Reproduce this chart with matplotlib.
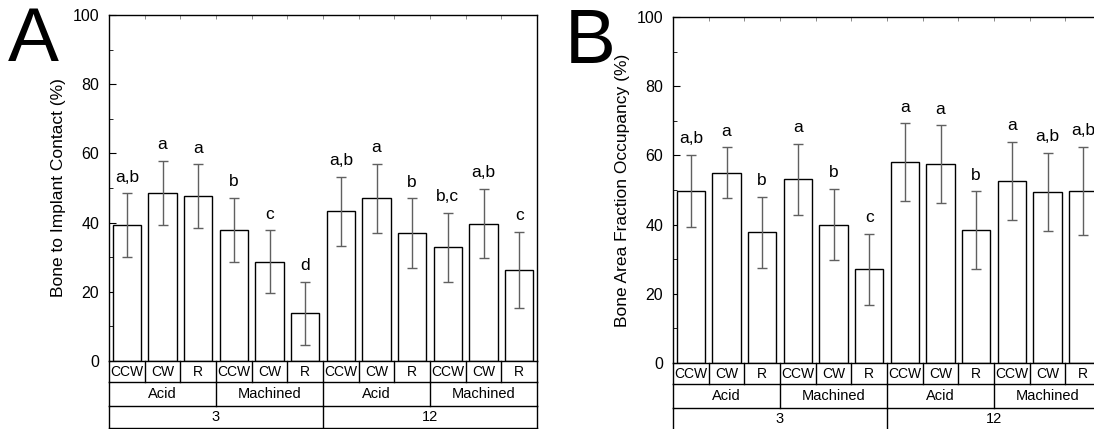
import matplotlib
matplotlib.use('Agg')
import matplotlib.pyplot as plt
import numpy as np

plt.rcParams['font.family'] = ['Liberation Sans', 'DejaVu Sans']

# groups along x: week / surface / rotation
weeks = ['3', '12']
surfaces = ['Acid', 'Machined']
rotations = ['CCW', 'CW', 'R']

# panel A: bone to implant contact (%)
bic_mean = [39.3, 48.6, 47.6, 37.8, 28.7, 13.8, 43.3, 47.0, 37.0, 32.9, 39.7, 26.4]
bic_sd = [9.2, 9.2, 9.2, 9.3, 9.1, 9.1, 10.0, 10.0, 10.0, 10.0, 10.0, 11.0]
bic_letters = ['a,b', 'a', 'a', 'b', 'c', 'd', 'a,b', 'a', 'b', 'b,c', 'a,b', 'c']

# panel B: bone area fraction occupancy (%)
bafo_mean = [49.7, 55.0, 37.8, 53.1, 40.0, 27.1, 58.0, 57.5, 38.4, 52.7, 49.4, 49.8]
bafo_sd = [10.4, 7.3, 10.3, 10.3, 10.3, 10.2, 11.3, 11.2, 11.2, 11.3, 11.3, 12.7]
bafo_letters = ['a,b', 'a', 'b', 'a', 'b', 'c', 'a', 'a', 'b', 'a', 'a,b', 'a,b']


def draw_table(ax):
    """Three-row category table drawn under the axes."""
    n = len(weeks) * len(surfaces) * len(rotations)
    tr = ax.get_xaxis_transform()
    h = ax.bbox.height
    rows = [0, -21 / h, -45 / h, -67 / h]
    kw = dict(color='black', lw=1.0, transform=tr, clip_on=False)
    for y in rows[1:]:
        ax.plot([-0.5, n - 0.5], [y, y], **kw)
    # row 1: rotation
    for i in range(n + 1):
        ax.plot([i - 0.5, i - 0.5], [rows[0], rows[1]], **kw)
    for i in range(n):
        ax.text(i, (rows[0] + rows[1]) / 2, rotations[i % 3], transform=tr,
                ha='center', va='center', fontsize=10)
    # row 2: surface
    for i in range(0, n + 1, 3):
        ax.plot([i - 0.5, i - 0.5], [rows[1], rows[2]], **kw)
    for j in range(n // 3):
        ax.text(3 * j + 1, (rows[1] + rows[2]) / 2, surfaces[j % 2], transform=tr,
                ha='center', va='center', fontsize=10.5)
    # row 3: week
    for i in range(0, n + 1, 6):
        ax.plot([i - 0.5, i - 0.5], [rows[2], rows[3]], **kw)
    for j in range(n // 6):
        ax.text(6 * j + 2.5, (rows[2] + rows[3]) / 2, weeks[j], transform=tr,
                ha='center', va='center', fontsize=10.5)


def panel(ax, mean, sd, letters, ylabel):
    x = np.arange(len(mean))
    ax.bar(x, mean, width=0.8, color='white', edgecolor='black', lw=1.0, zorder=2)
    ax.errorbar(x, mean, yerr=sd, fmt='none', ecolor='#606060', elinewidth=1.0,
                capsize=3.5, capthick=1.0, zorder=3)
    for xi, m, s, t in zip(x, mean, sd, letters):
        ax.text(xi, m + s + 2.5, t, ha='center', va='bottom', fontsize=12.5)
    ax.set_xlim(-0.5, len(mean) - 0.5)
    ax.set_ylim(0, 100)
    ax.set_yticks(np.arange(0, 101, 20))
    ax.set_yticks(np.arange(10, 100, 20), minor=True)
    ax.tick_params(axis='y', which='both', direction='in', labelsize=11.5, pad=7)
    ax.tick_params(axis='y', which='major', length=5)
    ax.tick_params(axis='y', which='minor', length=3)
    ax.set_xticks([])
    ax.set_xticks(np.arange(0.5, len(mean) - 1, 1), minor=True)
    ax.tick_params(axis='x', which='minor', direction='in', top=True, bottom=False,
                   length=3, width=0.6, color='#777777')
    for sp in ax.spines.values():
        sp.set_linewidth(1.0)
    ax.set_ylabel(ylabel, fontsize=12.5, labelpad=5)
    draw_table(ax)


fig = plt.figure(figsize=(10.94, 4.29), dpi=100)
W, H = 1094, 429
axA = fig.add_axes([109 / W, (H - 361) / H, 428 / W, 346 / H])
axB = fig.add_axes([673 / W, (H - 363) / H, 428 / W, 346 / H])

panel(axA, bic_mean, bic_sd, bic_letters, 'Bone to Implant Contact (%)')
panel(axB, bafo_mean, bafo_sd, bafo_letters, 'Bone Area Fraction Occupancy (%)')

fig.text(8 / W, 1 - 6 / H, 'A', fontsize=55, ha='left', va='top')
fig.text(565 / W, 1 - 8 / H, 'B', fontsize=55, ha='left', va='top')

fig.savefig('out.png', dpi=100)
